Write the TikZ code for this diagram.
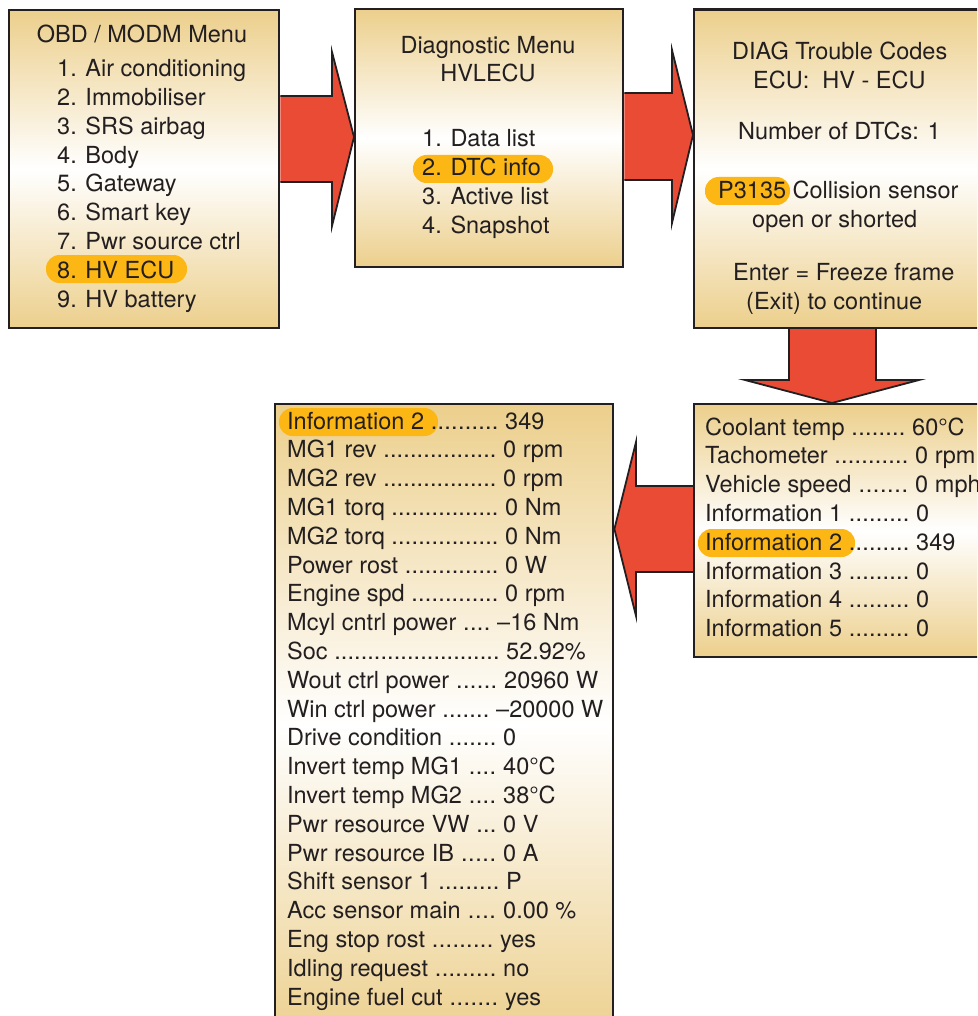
\documentclass[tikz,border=0pt]{standalone}
\usepackage{fontspec}
\setmainfont{TeX Gyre Heros}
\usetikzlibrary{calc}
\definecolor{paneltan}{RGB}{236,207,140}
\definecolor{arrowred}{RGB}{233,75,53}
\definecolor{hlcol}{RGB}{253,183,20}
\definecolor{inkcol}{RGB}{35,31,32}
\pgfdeclarelayer{bg}
\pgfsetlayers{bg,main}
\newcommand{\dline}[3]{\makebox[#1pt][l]{#2 \xleaders\hbox{.}\hfill\ }#3}
\begin{document}
\begin{tikzpicture}[x=1pt,y=-1pt,
  txt/.style={font=\fontsize{23.5}{28.8}\selectfont, text=inkcol, inner sep=0pt},
  panel/.style={draw=inkcol, line width=2.4pt, top color=paneltan, bottom color=paneltan, middle color=white, inner sep=0pt, anchor=north west},
  arrowfill/.style={fill=arrowred},
  arrowline/.style={draw=inkcol, line width=1.8pt, line join=miter},
  hl/.style={fill=hlcol, rounded corners=13.5pt}]
\useasboundingbox (0,0) rectangle (977,1016);
\clip (0,0) rectangle (977,1016);

% panels
\node[panel, minimum width=270pt, minimum height=318pt] (b1) at (8,9) {};
\node[panel, minimum width=268pt, minimum height=258pt] (b2) at (354,8) {};
\node[panel, minimum width=300pt, minimum height=318pt] (b3) at (693,8.5) {};
\node[panel, minimum width=300pt, minimum height=253pt] (b4) at (693,403) {};
\node[panel, minimum width=338pt, minimum height=640pt] (b5) at (274,403) {};

% arrows behind panels
\begin{pgfonlayer}{bg}
\fill[arrowfill] (b1.east |- 0,96) -- (332,96) -- (332,52) -- (b2.west |- 0,137) -- (332,226) -- (332,182) -- (b1.east |- 0,182) -- cycle;
\draw[arrowline] (b1.east |- 0,96) -- (332,96) -- (332,52) -- (b2.west |- 0,137) -- (332,226) -- (332,182) -- (b1.east |- 0,182);
\fill[arrowfill] (b2.east |- 0,93) -- (672,93) -- (672,50) -- (b3.west |- 0,135) -- (672,223) -- (672,180) -- (b2.east |- 0,180) -- cycle;
\draw[arrowline] (b2.east |- 0,93) -- (672,93) -- (672,50) -- (b3.west |- 0,135) -- (672,223) -- (672,180) -- (b2.east |- 0,180);
\fill[arrowfill] (789,0 |- b3.south) -- (789,380) -- (745,380) -- (b4.north -| 832,0) -- (919,380) -- (876,380) -- (876,0 |- b3.south) -- cycle;
\draw[arrowline] (789,0 |- b3.south) -- (789,380) -- (745,380) -- (b4.north -| 832,0) -- (919,380) -- (876,380) -- (876,0 |- b3.south);
\fill[arrowfill] (b4.west |- 0,486) -- (636,486) -- (636,442) -- (b5.east |- 0,529) -- (636,616) -- (636,572) -- (b4.west |- 0,572) -- cycle;
\draw[arrowline] (b4.west |- 0,486) -- (636,486) -- (636,442) -- (b5.east |- 0,529) -- (636,616) -- (636,572) -- (b4.west |- 0,572);
\end{pgfonlayer}

% highlights
\fill[hl] (46,255) rectangle (187,283);
\fill[hl] (413,155) rectangle (553,183);
\fill[hl] (705,177) rectangle (790,205);
\fill[hl] (698,529) rectangle (855,557);
\fill[hl] (279,408) rectangle (438,436);

% panel 1
\node[txt, anchor=base] (t1) at (142,43) {OBD / MODM Menu};
\foreach \s [count=\i] in {Air conditioning,Immobiliser,SRS airbag,Body,Gateway,Smart key,Pwr source ctrl,HV ECU,HV battery}
  \node[txt, anchor=base west] (m\i) at (57,{77+(\i-1)*28.75}) {\i. \s};

% panel 2
\node[txt, anchor=base] (d1) at (488,54) {Diagnostic Menu};
\node[txt, anchor=base] (d2) at (488,82) {HVLECU};
\foreach \s [count=\i] in {Data list,DTC info,Active list,Snapshot}
  \node[txt, anchor=base west] (dm\i) at (422,{147+(\i-1)*28.7}) {\i. \s};

% panel 3
\node[txt, anchor=base west] (c1) at (732,60) {DIAG Trouble Codes};
\node[txt, anchor=base west] (c2) at (753,89) {ECU:\ \ HV - ECU};
\node[txt, anchor=base west] (c3) at (738,140) {Number of DTCs: 1};
\node[txt, anchor=base west] (c4) at (718,199) {P3135 Collision sensor};
\node[txt, anchor=base west] (c5) at (752,228) {open or shorted};
\node[txt, anchor=base west] (c6) at (733,280) {Enter = Freeze frame};
\node[txt, anchor=base west] (c7) at (746,309) {(Exit) to continue};

% panel 4
\foreach \n/\v/\w [count=\i] in {Coolant temp/60°C/207,Tachometer/0 rpm/210,Vehicle speed/0 mph/210,Information 1/0/211,Information 2/349/211,Information 3/0/211,Information 4/0/211,Information 5/0/211}
  \node[txt, anchor=base west] (r\i) at (705,{435+(\i-1)*28.8}) {\dline{\w}{\n}{\v}};

% panel 5
\foreach \n/\v/\w [count=\i] in {Information 2/349/218,MG1 rev/0 rpm/216,MG2 rev/0 rpm/216,MG1 torq/0 Nm/218,MG2 torq/0 Nm/218,Power rost/0 W/218,Engine spd/0 rpm/218,Mcyl cntrl power/–16 Nm/210,Soc/52.92\%/219,Wout ctrl power/20960 W/217,Win ctrl power/–20000 W/209,Drive condition/0/216,Invert temp MG1/40°C/216,Invert temp MG2/38°C/216,Pwr resource VW/0 V/216,Pwr resource IB/0 A/216,Shift sensor 1/P/219,Acc sensor main/0.00 \%/216,Eng stop rost/yes/213,Idling request/no/216,Engine fuel cut/yes/218}
  \node[txt, anchor=base west] (s\i) at (287,{429+(\i-1)*28.8}) {\dline{\w}{\n}{\v}};
\end{tikzpicture}
\end{document}
